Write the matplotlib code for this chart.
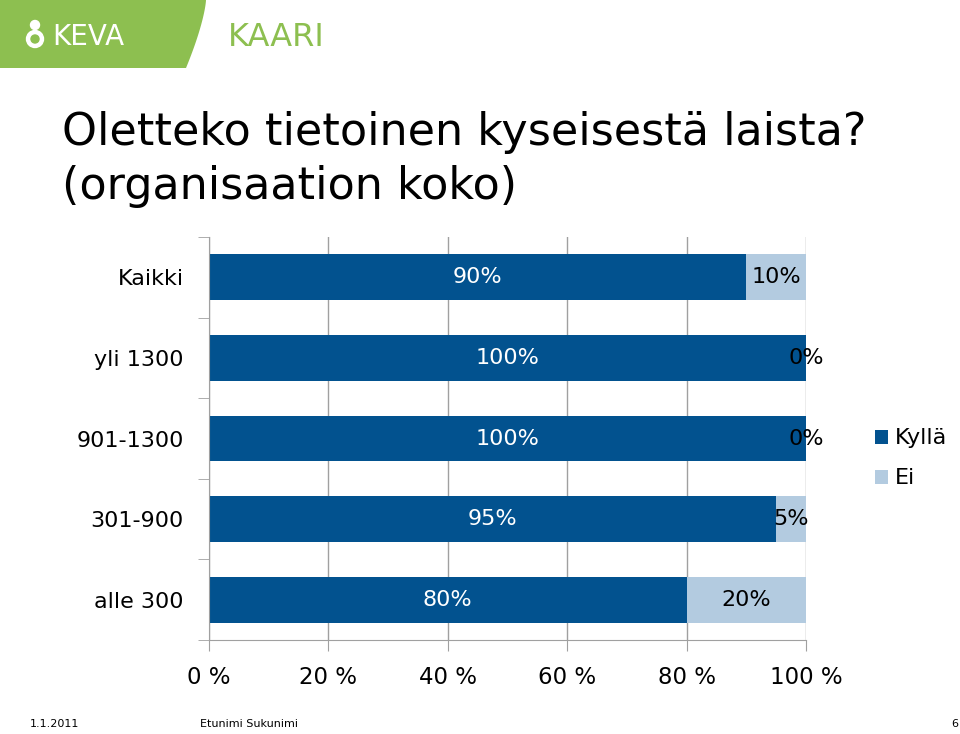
import matplotlib.pyplot as plt
import numpy as np
from matplotlib.patches import Polygon
from matplotlib.ticker import FixedLocator

plt.rcParams['font.family'] = ['DejaVu Sans']

categories = ['Kaikki', 'yli 1300', '901-1300', '301-900', 'alle 300']
kylla = [90, 100, 100, 95, 80]
ei = [10, 0, 0, 5, 20]
series_names = ['Kyllä', 'Ei']
xticks = [0, 20, 40, 60, 80, 100]

dark = '#02528f'
light = '#b3cbe0'
green = '#8dbf50'

fig = plt.figure(figsize=(9.6, 7.34), dpi=100)

# logo strip (pixel coordinates, y down)
logo = fig.add_axes([0, 0, 1, 1], zorder=-1)
logo.set_xlim(0, 960)
logo.set_ylim(734, 0)
logo.axis('off')
t = np.linspace(0, 1, 40)
curve_x = 206 - 20 * t ** 1.4
curve_y = 68 * t
pts = [(0, 0)] + list(zip(curve_x, curve_y)) + [(0, 68)]
logo.add_patch(Polygon(pts, closed=True, color=green, lw=0))
logo.add_patch(plt.Circle((35, 39), 8.5, color='white'))
logo.add_patch(plt.Circle((35, 39), 4, color=green))
logo.add_patch(plt.Circle((35, 25), 4.5, color='white'))
logo.text(52, 37, 'KEVA', color='white', fontsize=20, va='center', ha='left')
logo.text(228, 37, 'KAARI', color=green, fontsize=23, va='center', ha='left')

# title
fig.text(62, 734 - 145, 'Oletteko tietoinen kyseisestä laista?',
         transform=None, fontsize=32, va='baseline', ha='left')
fig.text(62, 734 - 199, '(organisaation koko)',
         transform=None, fontsize=32, va='baseline', ha='left')

ax = fig.add_axes([209 / 960, 1 - 640 / 734, 597 / 960, 403 / 734])
y = np.arange(len(categories))
h = 0.57
ax.barh(y, kylla, height=h, color=dark, label=series_names[0])
ax.barh(y, ei, left=kylla, height=h, color=light, label=series_names[1])

for i in range(len(categories)):
    ax.text(kylla[i] / 2, y[i], f'{kylla[i]}%', color='white', ha='center', va='center', fontsize=16)
    ax.text(kylla[i] + ei[i] / 2, y[i], f'{ei[i]}%', color='black', ha='center', va='center', fontsize=16)

ax.set_xlim(0, 100)
ax.set_ylim(len(categories) - 0.5, -0.5)
ax.set_xticks(xticks)
ax.set_xticklabels([f'{v} %' for v in xticks], fontsize=16.5)
ax.set_yticks(y)
ax.set_yticklabels(categories, fontsize=16)
ax.yaxis.set_minor_locator(FixedLocator(np.arange(-0.5, len(categories), 1)))
ax.tick_params(axis='y', which='major', length=0, pad=18)
ax.tick_params(axis='y', which='minor', length=8, color='#a0a0a0')
ax.tick_params(axis='x', length=8, color='#a0a0a0', pad=11)
ax.grid(axis='x', color='#a0a0a0', lw=1)
ax.set_axisbelow(True)
for s in ['top', 'right']:
    ax.spines[s].set_visible(False)
for s in ['left', 'bottom']:
    ax.spines[s].set_color('#a0a0a0')

ax.legend(loc='upper left', bbox_to_anchor=(1.115, 0.525), frameon=False, fontsize=16,
          handlelength=0.6, handleheight=0.6, handletextpad=0.3, labelspacing=0.9,
          borderaxespad=0, borderpad=0)

# footer
fig.text(30, 734 - 727, '1.1.2011', transform=None, fontsize=8, va='baseline')
fig.text(200, 734 - 727, 'Etunimi Sukunimi', transform=None, fontsize=8, va='baseline')
fig.text(960 - 2, 734 - 727, '6', transform=None, fontsize=8, va='baseline', ha='right')

fig.savefig('out.png', dpi=100)
